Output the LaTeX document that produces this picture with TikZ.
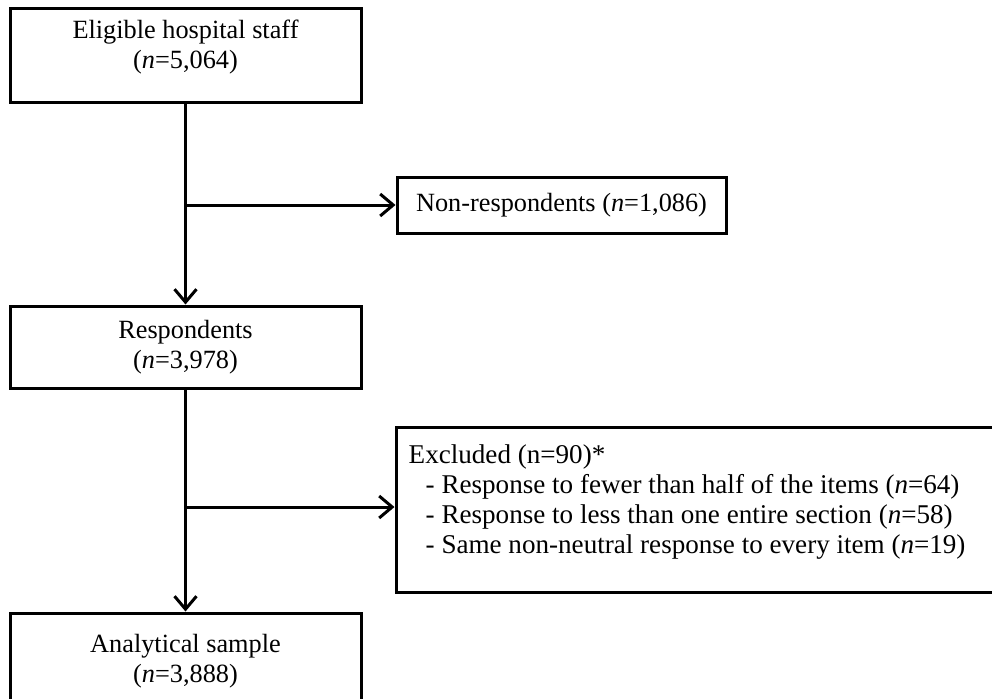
\documentclass[tikz,border=0pt]{standalone}
\usepackage{fontspec}
\setmainfont{Liberation Serif}
\usetikzlibrary{arrows.meta, positioning, calc}

\tikzset{
  flowbox/.style={draw, line width=3pt, rectangle, inner sep=0pt, align=center},
  flowarrow/.style={line width=3pt, -{Straight Barb[length=13pt, width=22pt, line width=3pt]}}
}

\begin{document}
\begin{tikzpicture}[x=1pt, y=-1pt, font=\fontsize{26.3}{30}\selectfont]
  \clip (0,0) rectangle (992,698);
  \fill[white] (0,0) rectangle (992,698);
  % ---- main column ----
  \node[flowbox, minimum width=351pt, minimum height=94pt] (staff) at (185.5, 56)
    {Eligible hospital staff\\(\textit{n}=5,064)\\[-6pt]};
  \node[flowbox, minimum width=351pt, minimum height=82pt] (resp) at (185.5, 347)
    {Respondents\\(\textit{n}=3,978)};
  \node[flowbox, minimum width=351pt, minimum height=97pt] (sample) at (185.5, 661.5)
    {Analytical sample\\(\textit{n}=3,888)};
  % ---- side boxes ----
  \node[flowbox, minimum width=329pt, minimum height=56pt] (nonresp) at (561.5, 205)
    {Non-respondents (\textit{n}=1,086)};
  \node[flowbox, minimum width=610pt, minimum height=165pt] (excl) at (701, 509.5) {};
  \node[anchor=north west, align=left, inner sep=0pt,
        font=\fontsize{27.1}{30}\selectfont] (excltext)
    at ($(excl.north west)+(14,19)$)
    {Excluded (n=90)*\\
     \hspace*{17pt}- Response to fewer than half of the items (\textit{n}=64)\\
     \hspace*{17pt}- Response to less than one entire section (\textit{n}=58)\\
     \hspace*{17pt}- Same non-neutral response to every item (\textit{n}=19)};
  % ---- connectors ----
  \coordinate (split1) at (staff.south |- nonresp.west);
  \coordinate (split2) at (resp.south |- 0,507);
  \draw[flowarrow] (staff.south) -- (resp.north);
  \draw[flowarrow] (resp.south) -- (sample.north);
  \draw[flowarrow] (split1) -- (nonresp.west);
  \draw[flowarrow] (split2) -- (split2 -| excl.west);
\end{tikzpicture}
\end{document}
